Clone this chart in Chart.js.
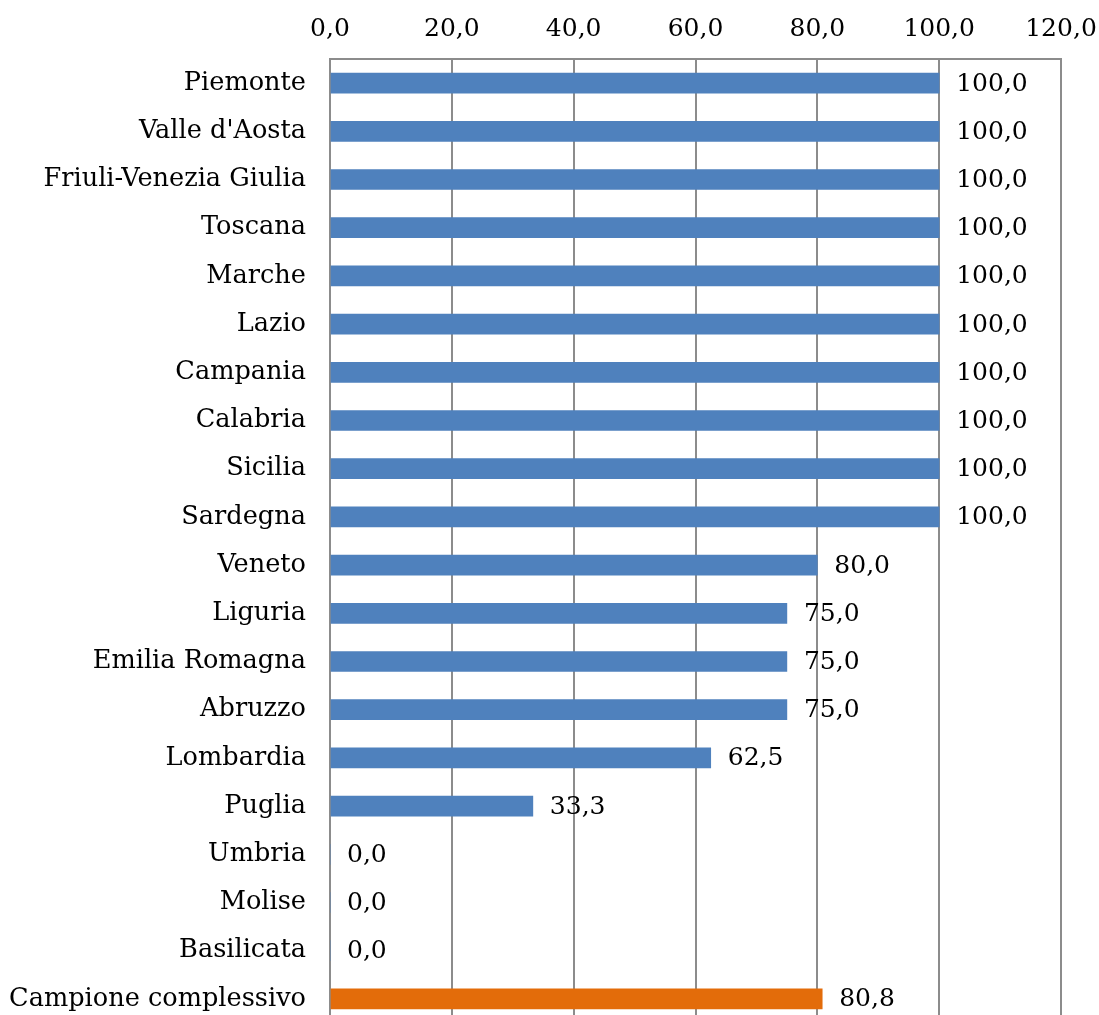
<!DOCTYPE html>
<html lang="it">
<head>
    <meta charset="UTF-8">
    <title>Regioni</title>
    <script src="https://cdn.jsdelivr.net/npm/chart.js"></script>
    <style>
        body {
            margin: 0;
            overflow: hidden;
            background: #ffffff;
        }
        #chart {
            display: block;
        }
    </style>
</head>
<body>
    <canvas id="chart" width="1099" height="1023"></canvas>

    <script>
        // Data
        const regions = [
            'Piemonte', "Valle d'Aosta", 'Friuli-Venezia Giulia', 'Toscana', 'Marche',
            'Lazio', 'Campania', 'Calabria', 'Sicilia', 'Sardegna',
            'Veneto', 'Liguria', 'Emilia Romagna', 'Abruzzo', 'Lombardia',
            'Puglia', 'Umbria', 'Molise', 'Basilicata', 'Campione complessivo'
        ];
        const values = [
            100, 100, 100, 100, 100,
            100, 100, 100, 100, 100,
            80, 75, 75, 75, 62.5,
            33.3, 0, 0, 0, 80.8
        ];
        const xTicks = [0, 20, 40, 60, 80, 100, 120];

        const fontName = "'DejaVu Serif', serif";
        const fontSize = 25;
        const gridColor = '#8c8c8c';

        function fmt(v) {
            return v.toFixed(1).replace('.', ',');
        }

        const barColors = regions.map(r => r === 'Campione complessivo' ? '#e36c0a' : '#4f81bd');

        // Draw the value next to the end of every bar
        const valueLabels = {
            id: 'valueLabels',
            afterDatasetsDraw(chart) {
                const ctx = chart.ctx;
                const meta = chart.getDatasetMeta(0);
                ctx.save();
                ctx.font = fontSize + 'px ' + fontName;
                ctx.fillStyle = '#000000';
                ctx.textAlign = 'left';
                ctx.textBaseline = 'middle';
                meta.data.forEach((bar, i) => {
                    ctx.fillText(fmt(values[i]), bar.x + 17, bar.y + 1);
                });
                ctx.restore();
            }
        };

        new Chart(document.getElementById('chart'), {
            type: 'bar',
            data: {
                labels: regions,
                datasets: [{
                    data: values,
                    backgroundColor: barColors,
                    borderWidth: 0,
                    barThickness: 20
                }]
            },
            options: {
                indexAxis: 'y',
                responsive: false,
                animation: false,
                layout: {
                    padding: { left: 0, right: 38, top: 0, bottom: 0 }
                },
                plugins: {
                    legend: { display: false },
                    tooltip: { enabled: false }
                },
                scales: {
                    x: {
                        position: 'top',
                        min: 0,
                        max: 120,
                        afterBuildTicks(scale) {
                            scale.ticks = xTicks.map(v => ({ value: v }));
                        },
                        afterFit(scale) {
                            scale.height = 59;
                            scale.paddingLeft = 0;
                            scale.paddingRight = 0;
                        },
                        grid: {
                            color: gridColor,
                            lineWidth: 2,
                            drawTicks: false
                        },
                        border: {
                            display: true,
                            color: gridColor,
                            width: 2
                        },
                        ticks: {
                            padding: 15,
                            color: '#000000',
                            font: { family: fontName, size: fontSize },
                            callback: v => fmt(v)
                        }
                    },
                    y: {
                        afterFit(scale) {
                            scale.width = 330;
                            scale.paddingTop = 0;
                            scale.paddingBottom = 0;
                        },
                        grid: {
                            display: false,
                            drawTicks: false
                        },
                        border: {
                            display: true,
                            color: gridColor,
                            width: 2
                        },
                        ticks: {
                            autoSkip: false,
                            padding: 24,
                            color: '#000000',
                            font: { family: fontName, size: 25.6 }
                        }
                    }
                }
            },
            plugins: [valueLabels]
        });
    </script>
</body>
</html>
